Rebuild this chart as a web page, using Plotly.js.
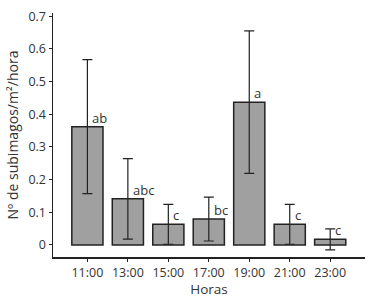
<!DOCTYPE html>
<html>
<head>
<meta charset="utf-8">
<script src="https://cdn.plot.ly/plotly-3.0.1.min.js"></script>
<style>html,body{margin:0;padding:0;background:#fff;}#chart{width:369px;height:298px;}</style>
</head>
<body>
<div id="chart"></div>
<script>
var hours = ["11:00", "13:00", "15:00", "17:00", "19:00", "21:00", "23:00"];
var means = [0.362, 0.141, 0.063, 0.079, 0.437, 0.063, 0.017];
var errors = [0.205, 0.123, 0.061, 0.067, 0.218, 0.061, 0.032];
var letters = ["ab", "abc", "c", "bc", "a", "c", "c"];

var textColor = "#333333";
var fontFam = "'Open Sans', 'DejaVu Sans', sans-serif";

var trace = {
  type: "bar",
  x: hours,
  y: means,
  width: 0.77,
  marker: {color: "#a0a0a0", line: {color: "#222222", width: 1.5}},
  error_y: {type: "data", array: errors, visible: true, color: "#222222", thickness: 1.2, width: 5},
  hoverinfo: "none"
};

var annotations = hours.map(function (h, i) {
  return {
    x: h, y: means[i], xref: "x", yref: "y",
    text: letters[i], showarrow: false,
    xanchor: "left", yanchor: "bottom",
    xshift: 3, yshift: -2,
    font: {family: fontFam, size: 13, color: textColor}
  };
});

var layout = {
  width: 369, height: 298,
  margin: {l: 53, r: 4, t: 13, b: 41},
  paper_bgcolor: "#ffffff", plot_bgcolor: "#ffffff",
  showlegend: false,
  font: {family: fontFam, size: 12, color: textColor},
  xaxis: {
    type: "category",
    range: [-0.85, 6.86],
    showline: true, linecolor: "#222222", linewidth: 1.5,
    ticks: "outside", ticklen: 3, tickcolor: "#222222", tickwidth: 1,
    showgrid: false, zeroline: false,
    tickfont: {family: fontFam, size: 12.5, color: textColor},
    title: {text: "Horas", font: {family: fontFam, size: 13.5, color: textColor}, standoff: 11}
  },
  yaxis: {
    range: [-0.037, 0.71],
    tickvals: [0, 0.1, 0.2, 0.3, 0.4, 0.5, 0.6, 0.7],
    ticktext: ["0", "0.1", "0.2", "0.3", "0.4", "0.5", "0.6", "0.7"],
    showline: true, linecolor: "#222222", linewidth: 1.5,
    ticks: "outside", ticklen: 3, tickcolor: "#222222", tickwidth: 1,
    showgrid: false, zeroline: false,
    tickfont: {family: fontFam, size: 12.5, color: textColor},
    title: {text: "Nº de subimagos/m²/hora", font: {family: fontFam, size: 14, color: textColor}, standoff: 6}
  },
  annotations: annotations
};

Plotly.newPlot("chart", [trace], layout, {staticPlot: true, displayModeBar: false});
</script>
</body>
</html>
